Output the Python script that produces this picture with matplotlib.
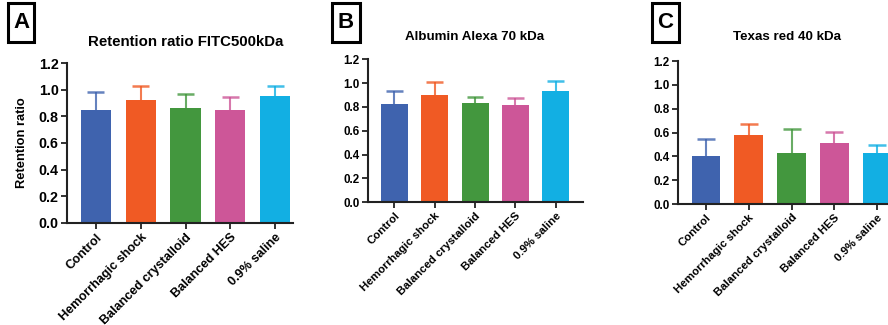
import matplotlib.pyplot as plt
from matplotlib.patches import Rectangle
import numpy as np

plt.rcParams['font.family'] = ['Liberation Sans', 'DejaVu Sans']
plt.rcParams['font.weight'] = 'bold'

groups = ['Control', 'Hemorrhagic shock', 'Balanced crystalloid', 'Balanced HES', '0.9% saline']
colors = ['#3F63AE', '#F05A24', '#43973E', '#CD5698', '#12AFE3']

# mean retention ratio and upper error (SD) per group
fitc_mean = [0.85, 0.925, 0.865, 0.85, 0.955]
fitc_err = [0.13, 0.105, 0.10, 0.092, 0.07]
alb_mean = [0.825, 0.898, 0.832, 0.815, 0.933]
alb_err = [0.112, 0.115, 0.055, 0.062, 0.088]
tex_mean = [0.405, 0.579, 0.425, 0.509, 0.428]
tex_err = [0.138, 0.095, 0.202, 0.095, 0.07]

W, H = 888, 325
fig = plt.figure(figsize=(W / 100, H / 100), dpi=100)

panels = [
    # letter, title, mean, err, axes rect, xlim, ytick size, xtick size, cap half width
    ('A', 'Retention ratio FITC500kDa', fitc_mean, fitc_err,
     [0.0755, 0.314, 0.2545, 0.492], (-0.644, 4.4), 10.3, 9.1, 0.19),
    ('B', 'Albumin Alexa 70 kDa', alb_mean, alb_err,
     [0.414, 0.3775, 0.2425, 0.44], (-0.666, 4.68), 8.4, 8.2, 0.21),
    ('C', 'Texas red 40 kDa', tex_mean, tex_err,
     [0.7635, 0.372, 0.25, 0.44], (-0.654, 4.53), 8.4, 8.2, 0.21),
]
# letter boxes in pixels: x0, x1, y0, y1 (from top)
letter_box = {'A': (8, 34, 3, 42), 'B': (332, 360, 3, 42), 'C': (652, 679, 3, 42)}
title_pos = {'A': (186, 42, 10.8), 'B': (475, 37, 9.6), 'C': (787, 37, 9.6)}

for letter, title, mean, err, rect, xlim, tfs, xfs, cap in panels:
    ax = fig.add_axes(rect)
    x = np.arange(len(groups))
    ax.bar(x, mean, width=0.67, color=colors, zorder=2)
    top = np.array(mean) + np.array(err)
    for xi, m, t, c in zip(x, mean, top, colors):
        ax.vlines(xi, m, t, color=c, alpha=0.8, lw=1.5, zorder=1)
        ax.hlines(t, xi - cap, xi + cap, color=c, alpha=0.8, lw=1.8, zorder=1)
    ax.set_xlim(*xlim)
    ax.set_ylim(0, 1.2)
    ax.set_yticks(np.arange(0, 1.21, 0.2))
    ax.set_yticklabels(['%.1f' % v for v in np.arange(0, 1.21, 0.2)],
                       fontsize=tfs, fontweight='bold')
    ax.set_xticks(x)
    ax.set_xticklabels(groups, rotation=45, ha='right', rotation_mode='anchor',
                       fontsize=xfs, fontweight='bold')
    for s in ['top', 'right']:
        ax.spines[s].set_visible(False)
    for s in ['left', 'bottom']:
        ax.spines[s].set_linewidth(1.5)
        ax.spines[s].set_color('#222222')
    ax.tick_params(width=1.3, length=4, color='#222222', pad=2)
    if letter == 'A':
        ax.set_ylabel('Retention ratio', fontsize=9.3, fontweight='bold', labelpad=8)

    tx, ty, tsize = title_pos[letter]
    fig.text(tx / W, 1 - ty / H, title, ha='center', va='center',
             fontsize=tsize, fontweight='bold')

    x0, x1, y0, y1 = letter_box[letter]
    fig.patches.append(Rectangle((x0 / W, 1 - y1 / H), (x1 - x0) / W, (y1 - y0) / H,
                                 transform=fig.transFigure, fill=False,
                                 ec='black', lw=2.2))
    fig.text((x0 + x1) / 2 / W, 1 - (y0 + y1) / 2 / H, letter, ha='center',
             va='center', fontsize=16, fontweight='bold')

fig.savefig('out.png', dpi=100)
